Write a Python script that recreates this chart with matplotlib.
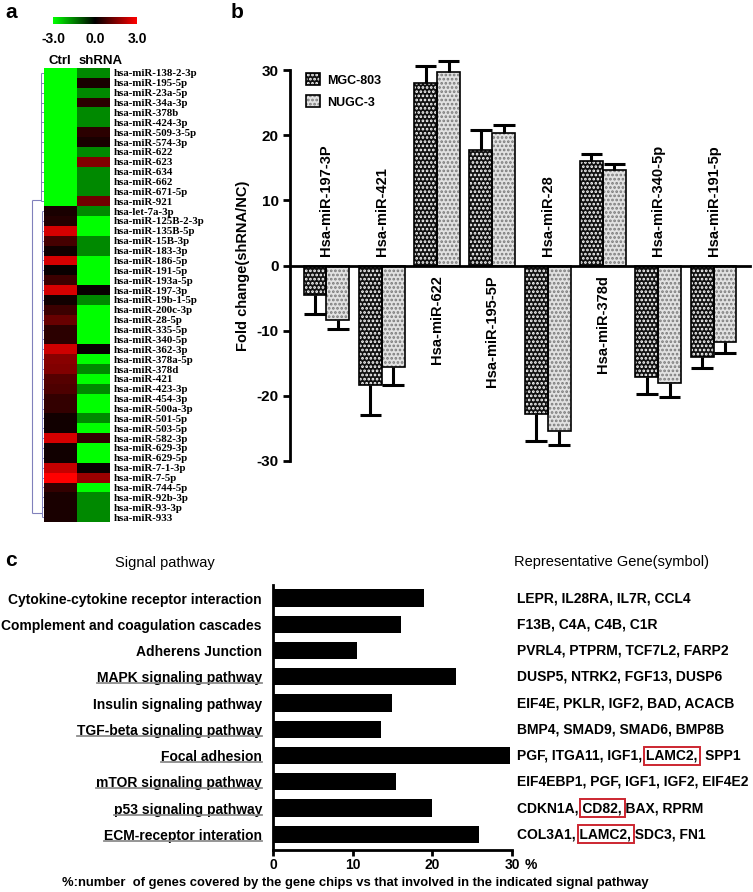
import numpy as np
import matplotlib
matplotlib.use("Agg")
import matplotlib.pyplot as plt
from matplotlib.colors import LinearSegmentedColormap
from matplotlib.patches import Rectangle
from matplotlib.lines import Line2D
from matplotlib.transforms import blended_transform_factory
from matplotlib.legend_handler import HandlerTuple

plt.rcParams['font.family'] = ['Liberation Sans', 'DejaVu Sans']
plt.rcParams['hatch.linewidth'] = 1.3
plt.rcParams['axes.unicode_minus'] = False

W, H = 753, 892

# ---------------- panel a: heatmap ----------------
mirnas = ["hsa-miR-138-2-3p", "hsa-miR-195-5p", "hsa-miR-23a-5p", "hsa-miR-34a-3p",
          "hsa-miR-378b", "hsa-miR-424-3p", "hsa-miR-509-3-5p", "hsa-miR-574-3p",
          "hsa-miR-622", "hsa-miR-623", "hsa-miR-634", "hsa-miR-662",
          "hsa-miR-671-5p", "hsa-miR-921", "hsa-let-7a-3p", "hsa-miR-125B-2-3p",
          "hsa-miR-135B-5p", "hsa-miR-15B-3p", "hsa-miR-183-3p", "hsa-miR-186-5p",
          "hsa-miR-191-5p", "hsa-miR-193a-5p", "hsa-miR-197-3p", "hsa-miR-19b-1-5p",
          "hsa-miR-200c-3p", "hsa-miR-28-5p", "hsa-miR-335-5p", "hsa-miR-340-5p",
          "hsa-miR-362-3p", "hsa-miR-378a-5p", "hsa-miR-378d", "hsa-miR-421",
          "hsa-miR-423-3p", "hsa-miR-454-3p", "hsa-miR-500a-3p", "hsa-miR-501-5p",
          "hsa-miR-503-5p", "hsa-miR-582-3p", "hsa-miR-629-3p", "hsa-miR-629-5p",
          "hsa-miR-7-1-3p", "hsa-miR-7-5p", "hsa-miR-744-5p", "hsa-miR-92b-3p",
          "hsa-miR-93-3p", "hsa-miR-933"]
ctrl = [-3, -3, -3, -3, -3, -3, -3, -3, -3, -3, -3, -3, -3, -3,
        0.3, 0.4, 2.5, 0.8, 0.2, 2.5, 0.1, 0.7, 2.5, 0.2, 0.7, 1.2,
        0.5, 0.5, 2.4, 1.6, 1.5, 1.0, 0.9, 0.6, 0.6, 0.2, 0.2, 2.5,
        0.2, 0.2, 2.3, 3.0, 0.6, 0.3, 0.3, 0.3]
shrna = [-1.6, 0.3, -1.6, 0.5, -1.6, -1.6, 0.5, 0.3, -1.6, 1.5, -1.6, -1.6,
         -1.6, 1.3, -1.6, -3, -3, -1.6, -1.6, -3, -3, -3, 0.1, -1.6,
         -3, -3, -3, -3, 0.1, -3, -1.6, -3, -1.6, -3, -3, -1.6,
         -3, 0.6, -3, -3, 0.1, 1.8, -3, -1.6, -1.6, -1.6]
groups = [14, 32]  # leaves in the two dendrogram clusters

# ---------------- panel b: fold change ----------------
mir_groups = ["Hsa-miR-197-3P", "Hsa-miR-421", "Hsa-miR-622", "Hsa-miR-195-5P",
              "Hsa-miR-28", "Hsa-miR-378d", "Hsa-miR-340-5p", "Hsa-miR-191-5p"]
mgc803 = [-4.5, -18.3, 28.0, 17.8, -22.8, 16.0, -17.1, -14.1]
mgc803_err = [2.9, 4.6, 2.6, 3.0, 4.2, 1.1, 2.6, 1.7]
nugc3 = [-8.3, -15.5, 29.7, 20.3, -25.4, 14.7, -18.0, -11.8]
nugc3_err = [1.4, 2.8, 1.7, 1.2, 2.1, 0.8, 2.2, 1.6]

# ---------------- panel c: pathways ----------------
pathways = ["Cytokine-cytokine receptor interaction", "Complement and coagulation cascades",
            "Adherens Junction", "MAPK signaling pathway", "Insulin signaling pathway",
            "TGF-beta signaling pathway", "Focal adhesion", "mTOR signaling pathway",
            "p53 signaling pathway", "ECM-receptor interation"]
underlined = [False, False, False, True, False, True, True, True, True, True]
coverage = [18.9, 16.1, 10.5, 23.0, 14.9, 13.6, 29.8, 15.4, 19.9, 25.8]
# (text before, boxed gene, text after)
genes = [("LEPR, IL28RA, IL7R, CCL4", "", ""),
         ("F13B, C4A, C4B, C1R", "", ""),
         ("PVRL4, PTPRM, TCF7L2, FARP2", "", ""),
         ("DUSP5, NTRK2, FGF13, DUSP6", "", ""),
         ("EIF4E, PKLR, IGF2, BAD, ACACB", "", ""),
         ("BMP4, SMAD9, SMAD6, BMP8B", "", ""),
         ("PGF, ITGA11, IGF1, ", "LAMC2,", "  SPP1"),
         ("EIF4EBP1, PGF, IGF1, IGF2, EIF4E2", "", ""),
         ("CDKN1A, ", "CD82,", " BAX, RPRM"),
         ("COL3A1, ", "LAMC2,", " SDC3, FN1")]


def box(l, t, r, b):
    return [l / W, 1 - b / H, (r - l) / W, (b - t) / H]


fig = plt.figure(figsize=(W / 100, H / 100), dpi=100)

for letter, (px, py) in zip("abc", [(5, 12), (231, 12), (5, 560)]):
    fig.text(px / W, 1 - py / H, letter, fontsize=15, fontweight='bold', va='center')

# ---- heatmap
cmap = LinearSegmentedColormap.from_list('gkr', ['#00ff00', '#000000', '#ff0000'])
ax_h = fig.add_axes(box(44, 68, 110, 522))
im = ax_h.imshow(np.column_stack([ctrl, shrna]), cmap=cmap, vmin=-3, vmax=3,
                 aspect='auto', interpolation='nearest')
ax_h.set_xticks([])
ax_h.yaxis.tick_right()
ax_h.set_yticks(range(len(mirnas)), labels=mirnas, fontfamily='Liberation Serif',
                fontweight='bold', fontsize=7.8)
ax_h.tick_params(axis='y', length=0, pad=3)
for s in ax_h.spines.values():
    s.set_visible(False)

cax = fig.add_axes(box(53, 17, 137, 24))
cb = fig.colorbar(im, cax=cax, orientation='horizontal')
cb.outline.set_visible(False)
cb.set_ticks([-3, 0, 3], labels=['-3.0', '0.0', '3.0'])
cax.tick_params(length=0, pad=6, labelsize=10)
for lbl in cax.get_xticklabels():
    lbl.set_fontweight('bold')

fig.text(60 / W, 1 - 61 / H, "Ctrl", fontsize=9.5, fontweight='bold', ha='center', va='center')
fig.text(79 / W, 1 - 61 / H, "shRNA", fontsize=9.5, fontweight='bold', ha='left', va='center')

# simple dendrogram next to the heatmap
ax_d = fig.add_axes(box(29, 68, 44, 522))
ax_d.set_xlim(0, 1)
ax_d.set_ylim(len(mirnas) - 0.5, -0.5)
ax_d.axis('off')
dcol = '#8080bb'
start = 0
joins = []
for n, xv in zip(groups, [0.78, 0.85]):
    rows = np.arange(start, start + n)
    ax_d.hlines(rows, xv, 1, color=dcol, lw=0.7)
    ax_d.vlines(xv, rows[0], rows[-1], color=dcol, lw=0.7)
    joins.append((xv, rows[-1] - 0.1 if start == 0 else rows[-1] - 0.4))
    start += n
ax_d.vlines(0.2, joins[0][1], joins[1][1], color=dcol, lw=0.8)
for xv, yv in joins:
    ax_d.hlines(yv, 0.2, xv, color=dcol, lw=0.8)

# ---- panel b
ax_b = fig.add_axes(box(290, 70, 750, 461))
x = np.arange(len(mir_groups))
bw = 0.415
series = [("MGC-803", np.array(mgc803), np.array(mgc803_err), x - bw / 2, '#111111', 'white'),
          ("NUGC-3", np.array(nugc3), np.array(nugc3_err), x + bw / 2, '#e2e2e2', '#7a7a7a')]
handles = []
for name, vals, errs, xs, fc, hc in series:
    fill = ax_b.bar(xs, vals, bw, color=fc, edgecolor=hc, linewidth=0, hatch='....', zorder=2)
    edge = ax_b.bar(xs, vals, bw, fill=False, edgecolor='black', linewidth=1.2, zorder=3)
    tips = vals + np.sign(vals) * errs
    ax_b.vlines(xs, vals, tips, color='black', lw=2.2, zorder=4, clip_on=False)
    ax_b.hlines(tips, xs - bw * 0.47, xs + bw * 0.47, color='black', lw=2.2, zorder=4, clip_on=False)
    handles.append((fill[0], edge[0]))

ax_b.set_xlim(-0.66, len(mir_groups) - 1 + 0.66)
ax_b.set_ylim(-30, 30)
ax_b.set_yticks([-30, -20, -10, 0, 10, 20, 30])
ax_b.set_xticks([])
ax_b.spines['top'].set_visible(False)
ax_b.spines['right'].set_visible(False)
ax_b.spines['bottom'].set_position(('data', 0))
ax_b.spines['bottom'].set_linewidth(2)
ax_b.spines['left'].set_linewidth(2)
ax_b.tick_params(axis='y', width=2, length=5, labelsize=11, pad=3)
for lbl in ax_b.get_yticklabels():
    lbl.set_fontweight('bold')
ax_b.set_ylabel("Fold change(shRNA/NC)", fontsize=10.5, fontweight='bold', labelpad=5)

for i, name in enumerate(mir_groups):
    up = mgc803[i] < 0
    ax_b.annotate(name, (i, 0), xytext=(0, 7 if up else -7), textcoords='offset points',
                  rotation=90, ha='center', va='bottom' if up else 'top',
                  fontsize=10.5, fontweight='bold')

ax_b.legend(handles, [s[0] for s in series], handler_map={tuple: HandlerTuple(ndivide=1, pad=0)},
            loc='upper left', bbox_to_anchor=(0.01, 1.02), frameon=False,
            handlelength=1.1, handleheight=1.1, labelspacing=0.7, handletextpad=0.6,
            prop={'weight': 'bold', 'size': 9})

# ---- panel c
ax_c = fig.add_axes(box(273, 585, 512, 850))
yy = np.arange(len(pathways))
ax_c.barh(yy, coverage, height=0.66, color='black')
ax_c.set_xlim(0, 30)
ax_c.set_ylim(len(pathways) - 0.4, -0.5)
ax_c.set_xticks([0, 10, 20, 30], labels=['0', '10', '20', '30'])
ax_c.set_yticks(yy, labels=pathways)
ax_c.tick_params(axis='y', length=0, pad=8, labelsize=10)
ax_c.tick_params(axis='x', length=4, width=2, pad=2, labelsize=10)
for lbl in ax_c.get_yticklabels() + ax_c.get_xticklabels():
    lbl.set_fontweight('bold')
ax_c.spines['top'].set_visible(False)
ax_c.spines['right'].set_visible(False)
ax_c.spines['left'].set_linewidth(2)
ax_c.spines['bottom'].set_linewidth(2)
ax_c.annotate('%', (30, 0), xycoords=('data', 'axes fraction'), xytext=(9, -6),
              textcoords='offset points', ha='left', va='top', fontsize=10, fontweight='bold')

fig.text(165 / W, 1 - 563 / H, "Signal pathway", fontsize=10.5, ha='center', va='center')
fig.text(514 / W, 1 - 562 / H, "Representative Gene(symbol)", fontsize=10.5, ha='left', va='center')
fig.text(355 / W, 1 - 883 / H,
         "%:number  of genes covered by the gene chips vs that involved in the indicated signal pathway",
         fontsize=9.4, fontweight='bold', ha='center', va='center')

gene_tr = blended_transform_factory(fig.transFigure, ax_c.transData)
gx = 517
for i, (pre, boxed, post) in enumerate(genes):
    ax_c.text(gx / W, i, pre + boxed + post, transform=gene_tr, fontsize=10,
              fontweight='bold', ha='left', va='center', clip_on=False)

fig.canvas.draw()
renderer = fig.canvas.get_renderer()


def text_width(s):
    t = fig.text(0, 0, s + "|", fontsize=10, fontweight='bold')
    w1 = t.get_window_extent(renderer).width
    t.set_text("|")
    w2 = t.get_window_extent(renderer).width
    t.remove()
    return w1 - w2


for i, (pre, boxed, post) in enumerate(genes):
    if not boxed:
        continue
    yc = ax_c.transData.transform((0, i))[1]
    x0 = gx + text_width(pre) - 2
    x1 = gx + text_width(pre + boxed) + 3
    fig.add_artist(Rectangle((x0 / W, (yc - 9) / H), (x1 - x0) / W, 18 / H,
                             transform=fig.transFigure, fill=False, ec='#cc2630', lw=1.4))

for i, lbl in enumerate(ax_c.get_yticklabels()):
    if not underlined[i]:
        continue
    bb = lbl.get_window_extent(renderer)
    yc = ax_c.transData.transform((0, i))[1] - 6.5
    fig.add_artist(Line2D([bb.x0 / W, bb.x1 / W], [yc / H, yc / H],
                          transform=fig.transFigure, color='#8c8c8c', lw=1.3))

fig.savefig("out.png", dpi=100)
